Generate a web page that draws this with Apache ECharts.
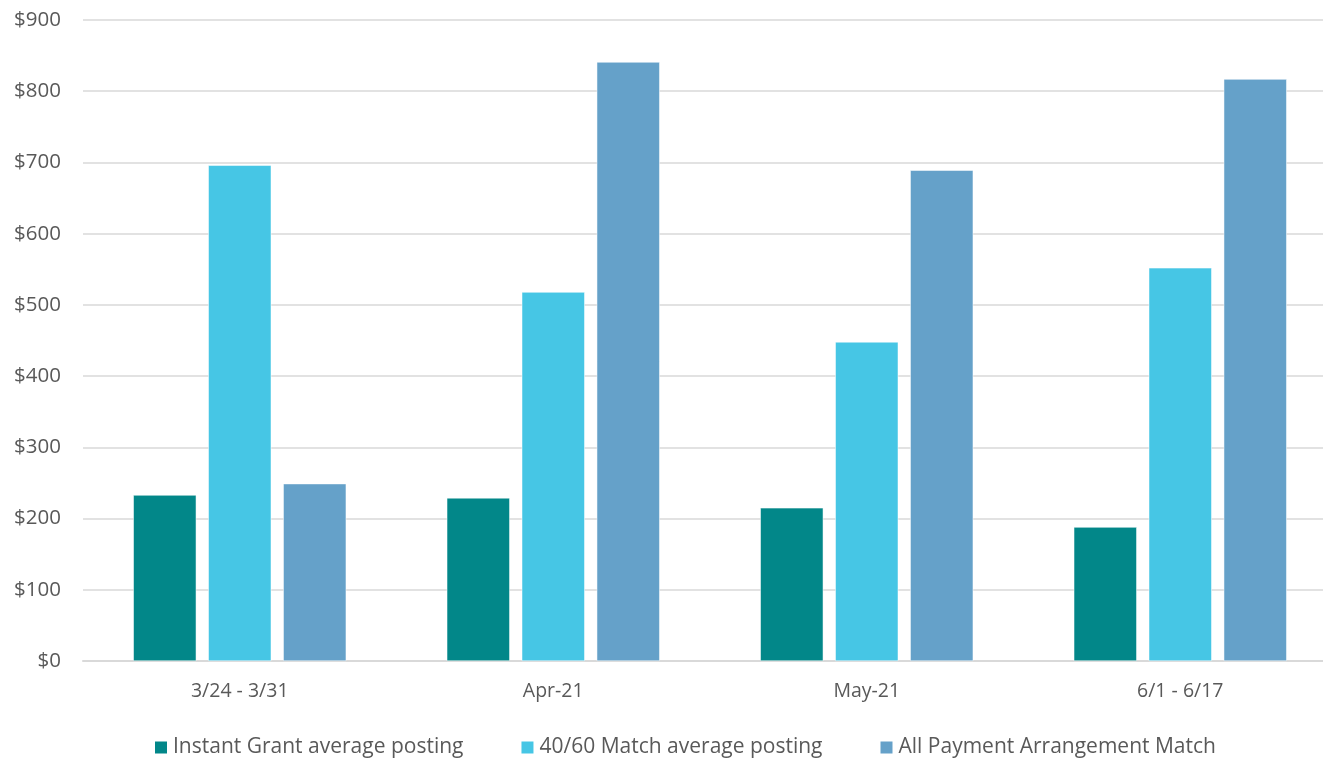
<!DOCTYPE html>
<html>
<head>
<meta charset="utf-8">
<script src="https://cdn.jsdelivr.net/npm/echarts@6/dist/echarts.min.js"></script>
<style>
    html, body { margin: 0; padding: 0; background: #fff; overflow: hidden; }
    #main { width: 1337px; height: 760px; }
</style>
</head>
<body>
<div id="main"></div>
<script>
var categories = ['3/24 - 3/31', 'Apr-21', 'May-21', '6/1 - 6/17'];
var instantGrant = [233, 229, 215, 188];
var match4060 = [696, 518, 448, 552];
var allPayment = [249, 841, 689, 817];

// plot runs a little past the right edge of the window, as in the original
var chart = echarts.init(document.getElementById('main'));
var textColor = '#595959';
var font = '"Open Sans", "Liberation Sans", sans-serif';

var option = {
    animation: false,
    textStyle: { fontFamily: font },
    grid: {
        left: 83,
        top: 20,
        right: 0,
        bottom: 99,
        containLabel: false
    },
    legend: {
        bottom: -3,
        left: 148,
        itemWidth: 14,
        itemHeight: 14,
        itemGap: 56,
        icon: 'rect',
        textStyle: { color: textColor, fontSize: 21, fontFamily: font },
        data: ['Instant Grant average posting', '40/60 Match average posting', 'All Payment Arrangement Match']
    },
    xAxis: {
        type: 'category',
        data: categories,
        axisLine: { lineStyle: { color: '#d9d9d9', width: 2 } },
        axisTick: { show: false },
        axisLabel: { color: textColor, fontSize: 19.5, margin: 20 }
    },
    yAxis: {
        type: 'value',
        min: 0,
        max: 900,
        interval: 100,
        axisLine: { show: false },
        axisTick: { show: false },
        splitLine: { lineStyle: { color: '#d9d9d9', width: 1.5 } },
        axisLabel: {
            color: textColor,
            fontSize: 20.5,
            margin: 22,
            formatter: function (v) { return '$' + v; }
        }
    },
    series: [{
        name: 'Instant Grant average posting',
        type: 'bar',
        data: instantGrant,
        barWidth: 63,
        barGap: '19%',
        itemStyle: { color: '#028789', borderColor: '#ffffff', borderWidth: 0.5 }
    }, {
        name: '40/60 Match average posting',
        type: 'bar',
        data: match4060,
        barWidth: 63,
        barGap: '19%',
        itemStyle: { color: '#46c6e5', borderColor: '#ffffff', borderWidth: 0.5 }
    }, {
        name: 'All Payment Arrangement Match',
        type: 'bar',
        data: allPayment,
        barWidth: 63,
        barGap: '19%',
        itemStyle: { color: '#65a1c9', borderColor: '#ffffff', borderWidth: 0.5 }
    }]
};
chart.setOption(option);
</script>
</body>
</html>
